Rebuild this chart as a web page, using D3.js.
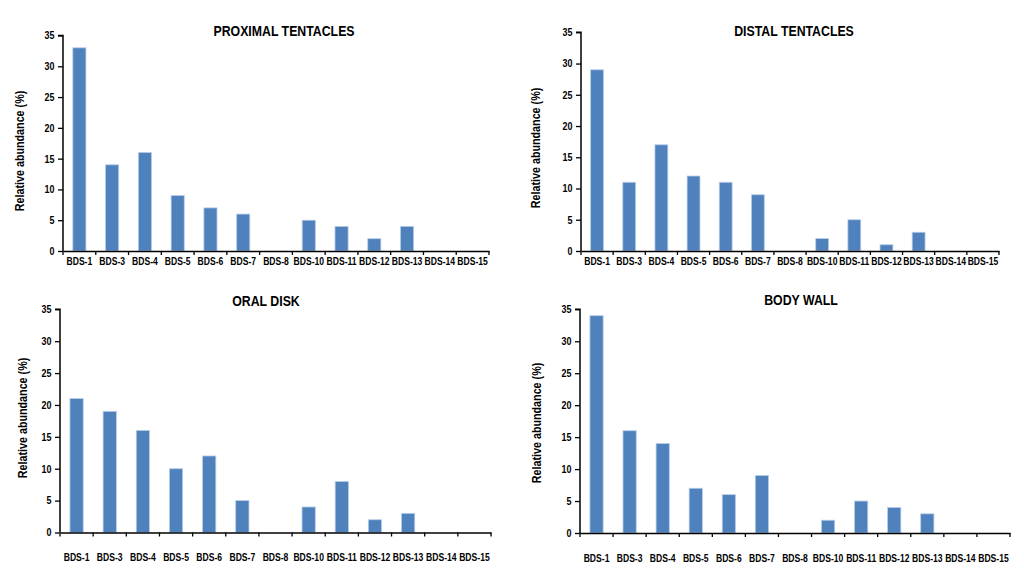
<!DOCTYPE html>
<html><head><meta charset="utf-8">
<script src="https://cdn.jsdelivr.net/npm/d3@7"></script>
<style>
body{margin:0;background:#fff;}
svg{display:block;}
text{font-family:"Liberation Sans",Arial,sans-serif;font-weight:bold;fill:#000;}
</style></head>
<body>
<script>
const categories = ["BDS-1","BDS-3","BDS-4","BDS-5","BDS-6","BDS-7","BDS-8","BDS-10","BDS-11","BDS-12","BDS-13","BDS-14","BDS-15"];
const titles = ["PROXIMAL TENTACLES","DISTAL TENTACLES","ORAL DISK","BODY WALL"];
const proximal = [33,14,16,9,7,6,0,5,4,2,4,0,0];
const distal = [29,11,17,12,11,9,0,2,5,1,3,0,0];
const oral = [21,19,16,10,12,5,0,4,8,2,3,0,0];
const bodyWall = [34,16,14,7,6,9,0,2,5,4,3,0,0];
const yTicks = [0,5,10,15,20,25,30,35];
const yLabel = "Relative abundance (%)";

const series = [proximal, distal, oral, bodyWall];
const layout = [
  {x0:63, x1:489, yT:35.5, yB:251, tx:284, ty:32, lx:21, ly:151, lo:6},
  {x0:581, x1:999, yT:32.3, yB:251, tx:794, ty:32, lx:537, ly:148, lo:6},
  {x0:60, x1:491, yT:309.3, yB:532.5, tx:266, ty:302, lx:24, ly:418, lo:21},
  {x0:580, x1:1010, yT:309.3, yB:533, tx:801, ty:301, lx:538, ly:423, lo:21}
];

const svg = d3.select("body").append("svg").attr("width",1024).attr("height",586);

series.forEach((vals, i) => {
  const L = layout[i];
  const g = svg.append("g");
  const x = d3.scaleBand().domain(categories).range([L.x0, L.x1]).paddingInner(0.6).paddingOuter(0.3);
  const xb = d3.scaleBand().domain(categories).range([L.x0, L.x1]);
  const y = d3.scaleLinear().domain([0,35]).range([L.yB, L.yT]);

  g.selectAll("rect").data(vals).join("rect")
    .attr("x",(d,j)=>x(categories[j]))
    .attr("y",d=>y(d))
    .attr("width",x.bandwidth())
    .attr("height",d=>y(0)-y(d))
    .attr("fill","#4f81bd")
    .attr("stroke","#b8cde8").attr("stroke-width",0.8);

  // y axis
  const ya = g.append("g").attr("transform",`translate(${L.x0},0)`)
    .call(d3.axisLeft(y).tickValues(yTicks).tickSize(5).tickPadding(4));
  ya.select(".domain").attr("stroke","#000").attr("stroke-width",1.5).attr("d",`M-5,${L.yT}H0V${L.yB}`);
  ya.selectAll(".tick line").attr("stroke","#000").attr("stroke-width",1.3);
  ya.selectAll(".tick text").style("font-size","10.5px").attr("transform","scale(0.85,1)").attr("x",-10);

  // x axis
  const xa = g.append("g").attr("transform",`translate(0,${L.yB})`)
    .call(d3.axisBottom(xb).tickSize(0).tickPadding(L.lo));
  xa.select(".domain").attr("stroke","#000").attr("stroke-width",1.5);
  xa.selectAll(".tick text").style("font-size","11px").attr("transform","scale(0.78,1)");
  // boundary ticks
  const bounds = categories.map(c=>xb(c)).concat([L.x1]);
  g.selectAll("line.bt").data(bounds).join("line").attr("class","bt")
    .attr("x1",d=>d).attr("x2",d=>d).attr("y1",L.yB).attr("y2",L.yB+4)
    .attr("stroke","#000").attr("stroke-width",1.3);

  g.append("text").attr("transform",`translate(${L.tx},${L.ty}) scale(0.85,1)`).attr("text-anchor","middle")
    .attr("dominant-baseline","middle").style("font-size","14.5px").text(titles[i]);
  g.append("text").attr("transform",`translate(${L.lx},${L.ly}) rotate(-90) scale(0.86,1)`)
    .attr("text-anchor","middle").attr("dominant-baseline","middle")
    .style("font-size","12.5px").text(yLabel);
});
</script>
</body></html>
